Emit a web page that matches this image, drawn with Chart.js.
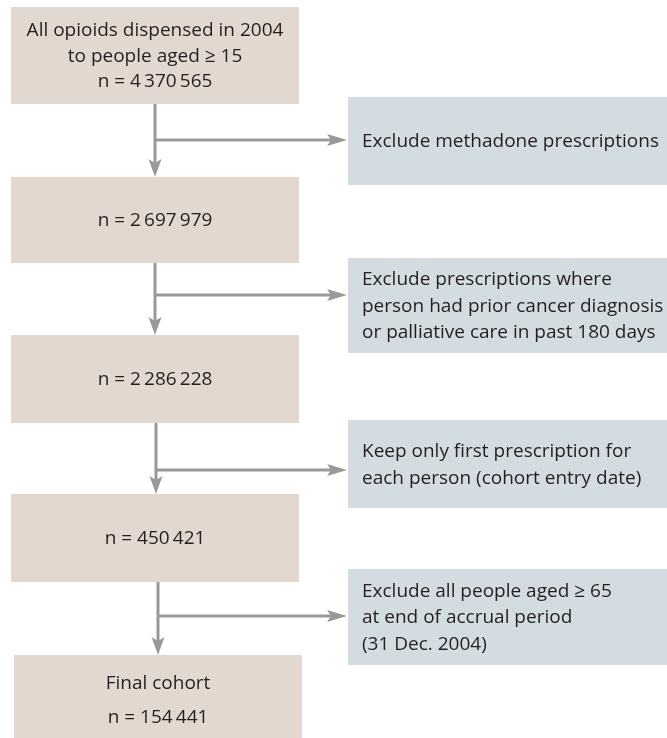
<!DOCTYPE html>
<html>
<head>
<meta charset="utf-8">
<script src="https://cdn.jsdelivr.net/npm/chart.js@4.4.1/dist/chart.umd.min.js"></script>
<style>
  body { margin: 0; background: #fff; }
  #wrap { width: 667px; height: 738px; }
</style>
</head>
<body>
<div id="wrap"><canvas id="flowChart"></canvas></div>
<script>
// cohort steps (left column)
const stepTitles = [
    ['All opioids dispensed in 2004', 'to people aged ≥ 15'],
    [],
    [],
    [],
    ['Final cohort']
];
const stepCounts = [4370565, 2697979, 2286228, 450421, 154441];

// exclusion steps (right column)
const exclusionTexts = [
    ['Exclude methadone prescriptions'],
    ['Exclude prescriptions where', 'person had prior cancer diagnosis', 'or palliative care in past 180 days'],
    ['Keep only first prescription for', 'each person (cohort entry date)'],
    ['Exclude all people aged ≥ 65', 'at end of accrual period', '(31 Dec. 2004)']
];

// layout, in chart units (x 0..667, y 0..738 counted from the top)
const stepTop = [7, 177, 335, 494, 655];
const stepBottom = [104, 263, 423, 582, 745];
const stepLeft = [11, 11, 11, 11, 14];
const stepRight = [299, 299, 299, 299, 302];
const stepLineGap = [25.5, 25.5, 25.5, 25.5, 34];
const exclTop = [97, 258, 420, 569];
const exclBottom = [185, 353, 508, 665];
const exclLeft = 348;
const exclRight = 667;
const exclTextX = 362;
const exclLineGap = 26.5;
const stemX = [155, 155, 156, 158];
const branchY = [140, 295, 470, 616];

const colorStep = '#e3d8cf';
const colorExcl = '#d3dce1';
const colorArrow = '#999999';
const colorText = '#231f20';
const fontFamily = '"Open Sans", "DejaVu Sans", sans-serif';

function formatCount(n) {
    return 'n = ' + String(n).replace(/\B(?=(\d{3})+(?!\d))/g, '\u2009');
}

function arrowHead(ctx, tipX, tipY, dir, len, half, notch) {
    // dir: 'down' or 'right'
    ctx.beginPath();
    if (dir === 'down') {
        ctx.moveTo(tipX, tipY);
        ctx.lineTo(tipX - half, tipY - len);
        ctx.lineTo(tipX, tipY - len + notch);
        ctx.lineTo(tipX + half, tipY - len);
    } else {
        ctx.moveTo(tipX, tipY);
        ctx.lineTo(tipX - len, tipY - half);
        ctx.lineTo(tipX - len + notch, tipY);
        ctx.lineTo(tipX - len, tipY + half);
    }
    ctx.closePath();
    ctx.fill();
}

const flowPlugin = {
    id: 'flow',
    afterDraw(chart) {
        const ctx = chart.ctx;
        const sx = chart.scales.x;
        const sy = chart.scales.y;
        const px = v => sx.getPixelForValue(v);
        const py = v => sy.getPixelForValue(v);

        ctx.save();

        // boxes
        stepCounts.forEach((count, i) => {
            ctx.fillStyle = colorStep;
            ctx.fillRect(px(stepLeft[i]), py(stepTop[i]), px(stepRight[i]) - px(stepLeft[i]), py(stepBottom[i]) - py(stepTop[i]));
        });
        exclusionTexts.forEach((lines, i) => {
            ctx.fillStyle = colorExcl;
            ctx.fillRect(px(exclLeft), py(exclTop[i]), px(exclRight) - px(exclLeft), py(exclBottom[i]) - py(exclTop[i]));
        });

        // arrows
        ctx.strokeStyle = colorArrow;
        ctx.fillStyle = colorArrow;
        ctx.lineWidth = 3;
        stemX.forEach((x, i) => {
            const top = py(stepBottom[i]);
            const tip = py(stepTop[i + 1]);
            ctx.beginPath();
            ctx.moveTo(px(x), top);
            ctx.lineTo(px(x), tip - 12);
            ctx.stroke();
            arrowHead(ctx, px(x), tip, 'down', 18, 6.5, 4);

            const tipX = px(exclLeft) - 1;
            ctx.beginPath();
            ctx.moveTo(px(x), py(branchY[i]));
            ctx.lineTo(tipX - 14, py(branchY[i]));
            ctx.stroke();
            arrowHead(ctx, tipX, py(branchY[i]), 'right', 20, 6, 4);
        });

        // texts
        ctx.fillStyle = colorText;
        ctx.font = '19px ' + fontFamily;
        ctx.textBaseline = 'middle';

        ctx.textAlign = 'center';
        stepCounts.forEach((count, i) => {
            const lines = stepTitles[i].concat([formatCount(count)]);
            const cx = (px(stepLeft[i]) + px(stepRight[i])) / 2;
            const cy = (py(stepTop[i]) + py(stepBottom[i])) / 2 + 1;
            const gap = stepLineGap[i];
            lines.forEach((t, j) => {
                ctx.fillText(t, cx, cy + (j - (lines.length - 1) / 2) * gap);
            });
        });

        ctx.textAlign = 'left';
        exclusionTexts.forEach((lines, i) => {
            const cy = (py(exclTop[i]) + py(exclBottom[i])) / 2 + 1;
            lines.forEach((t, j) => {
                ctx.fillText(t, px(exclTextX), cy + (j - (lines.length - 1) / 2) * exclLineGap);
            });
        });

        ctx.restore();
    }
};

new Chart(document.getElementById('flowChart'), {
    type: 'scatter',
    data: { datasets: [{ data: [] }] },
    options: {
        responsive: true,
        maintainAspectRatio: false,
        animation: false,
        layout: { padding: 0 },
        plugins: {
            legend: { display: false },
            tooltip: { enabled: false }
        },
        scales: {
            x: { type: 'linear', min: 0, max: 667, display: false },
            y: { type: 'linear', min: 0, max: 738, reverse: true, display: false }
        }
    },
    plugins: [flowPlugin]
});
</script>
</body>
</html>
